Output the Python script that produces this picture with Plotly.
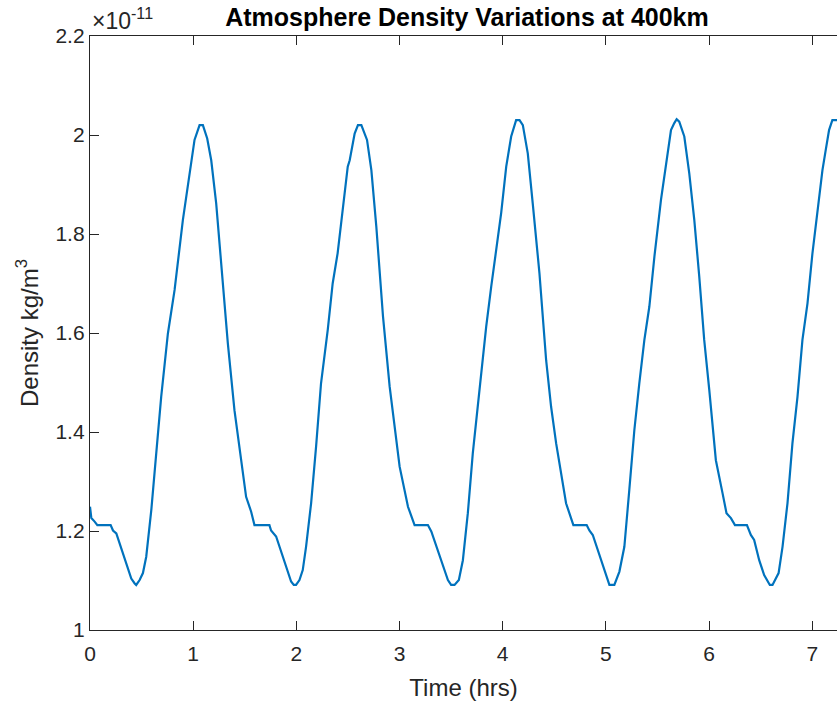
import plotly.graph_objects as go

# Time (hrs)
time_hrs = [
    0.0, 0.013, 0.045, 0.071, 0.20, 0.223, 0.255, 0.40, 0.433, 0.448, 0.481, 0.513,
    0.545, 0.594, 0.642, 0.69, 0.755, 0.82, 0.90, 0.949, 0.987, 1.013, 1.062, 1.094,
    1.136, 1.175, 1.223, 1.271, 1.336, 1.40, 1.465, 1.513, 1.562, 1.594, 1.739, 1.755,
    1.804, 1.949, 1.975, 1.997, 2.03, 2.062, 2.094, 2.143, 2.191, 2.239, 2.304, 2.352,
    2.40, 2.449, 2.498, 2.517, 2.565, 2.597, 2.63, 2.685, 2.727, 2.775, 2.84, 2.904,
    2.953, 3.001, 3.082, 3.146, 3.275, 3.308, 3.469, 3.50, 3.533, 3.575, 3.614, 3.662,
    3.71, 3.775, 3.84, 3.889, 3.937, 3.985, 4.034, 4.082, 4.13, 4.163, 4.195, 4.243,
    4.291, 4.356, 4.421, 4.469, 4.518, 4.566, 4.614, 4.685, 4.814, 4.84, 4.873, 5.034,
    5.082, 5.131, 5.179, 5.227, 5.276, 5.324, 5.373, 5.421, 5.47, 5.534, 5.582, 5.631,
    5.663, 5.686, 5.711, 5.76, 5.808, 5.857, 5.905, 5.953, 6.002, 6.066, 6.131, 6.169,
    6.212, 6.251, 6.367, 6.405, 6.437, 6.486, 6.534, 6.566, 6.589, 6.615, 6.641, 6.674,
    6.712, 6.76, 6.808, 6.857, 6.905, 6.954, 7.002, 7.05, 7.099, 7.131, 7.163, 7.195,
    7.228, 7.26,
]

# Density (units of 1e-11 kg/m^3)
density = [
    1.249, 1.226, 1.219, 1.212, 1.212, 1.201, 1.195, 1.104, 1.094, 1.091, 1.101, 1.115,
    1.148, 1.242, 1.357, 1.471, 1.599, 1.687, 1.828, 1.902, 1.956, 1.99, 2.020, 2.020,
    1.993, 1.949, 1.862, 1.741, 1.579, 1.444, 1.337, 1.269, 1.239, 1.212, 1.212, 1.201,
    1.189, 1.098, 1.091, 1.091, 1.101, 1.121, 1.168, 1.256, 1.370, 1.498, 1.606, 1.700,
    1.761, 1.855, 1.936, 1.949, 2.003, 2.020, 2.020, 1.990, 1.929, 1.815, 1.633, 1.492,
    1.404, 1.330, 1.249, 1.212, 1.212, 1.199, 1.101, 1.091, 1.091, 1.101, 1.141, 1.236,
    1.357, 1.485, 1.613, 1.694, 1.768, 1.842, 1.936, 1.997, 2.030, 2.030, 2.020, 1.963,
    1.862, 1.721, 1.545, 1.451, 1.377, 1.317, 1.256, 1.212, 1.212, 1.201, 1.192, 1.091,
    1.091, 1.118, 1.168, 1.283, 1.404, 1.498, 1.586, 1.653, 1.754, 1.869, 1.943, 2.010,
    2.024, 2.032, 2.027, 1.997, 1.923, 1.828, 1.714, 1.586, 1.485, 1.343, 1.276, 1.236,
    1.226, 1.212, 1.212, 1.192, 1.182, 1.141, 1.111, 1.100, 1.091, 1.091, 1.101, 1.115,
    1.168, 1.256, 1.377, 1.471, 1.586, 1.660, 1.761, 1.848, 1.929, 1.970, 2.010, 2.030,
    2.030, 2.030,
]

x_ticks = [0, 1, 2, 3, 4, 5, 6, 7]
y_ticks = [1.0, 1.2, 1.4, 1.6, 1.8, 2.0, 2.2]
y_tick_text = ["1", "1.2", "1.4", "1.6", "1.8", "2", "2.2"]

FONT = "Liberation Sans, Arial, sans-serif"
AX = "#262626"

fig = go.Figure()
fig.add_trace(go.Scatter(
    x=time_hrs, y=density, mode="lines",
    line=dict(color="#0072BD", width=2.2),
    showlegend=False, hoverinfo="skip",
))

fig.update_layout(
    width=837, height=706,
    margin=dict(l=90, r=0, t=36, b=76),
    paper_bgcolor="white", plot_bgcolor="white",
    font=dict(family=FONT, color=AX, size=21),
    title=dict(
        text="<b>Atmosphere Density Variations at 400km</b>",
        x=0.5047, xref="paper", xanchor="center",
        y=0.975, yref="container", yanchor="middle",
        font=dict(family=FONT, size=25, color="black"),
    ),
    xaxis=dict(
        range=[0, 7.24], tickvals=x_ticks, ticks="inside", ticklen=9, tickwidth=1.3,
        tickcolor=AX, showline=True, linecolor=AX, linewidth=1.3, mirror="allticks",
        showgrid=False, zeroline=False, tickfont=dict(size=21, color=AX),
        ticklabelstandoff=5,
        title=dict(text="Time (hrs)", font=dict(size=24, color=AX), standoff=14),
    ),
    yaxis=dict(
        range=[1.0, 2.2], tickvals=y_ticks, ticktext=y_tick_text, ticks="inside",
        ticklen=9, tickwidth=1.3, tickcolor=AX, showline=True, linecolor=AX,
        linewidth=1.3, mirror=False, showgrid=False, zeroline=False,
        tickfont=dict(size=21, color=AX),
        title=dict(text="Density kg/m<sup>3</sup>", font=dict(size=24, color=AX), standoff=10),
    ),
)

fig.add_annotation(
    text="×10<sup>-11</sup>", xref="paper", yref="paper", x=0, y=1,
    xanchor="left", yanchor="bottom", showarrow=False, xshift=0, yshift=0,
    font=dict(family=FONT, size=23, color=AX),
)

fig.write_html("out.html")
